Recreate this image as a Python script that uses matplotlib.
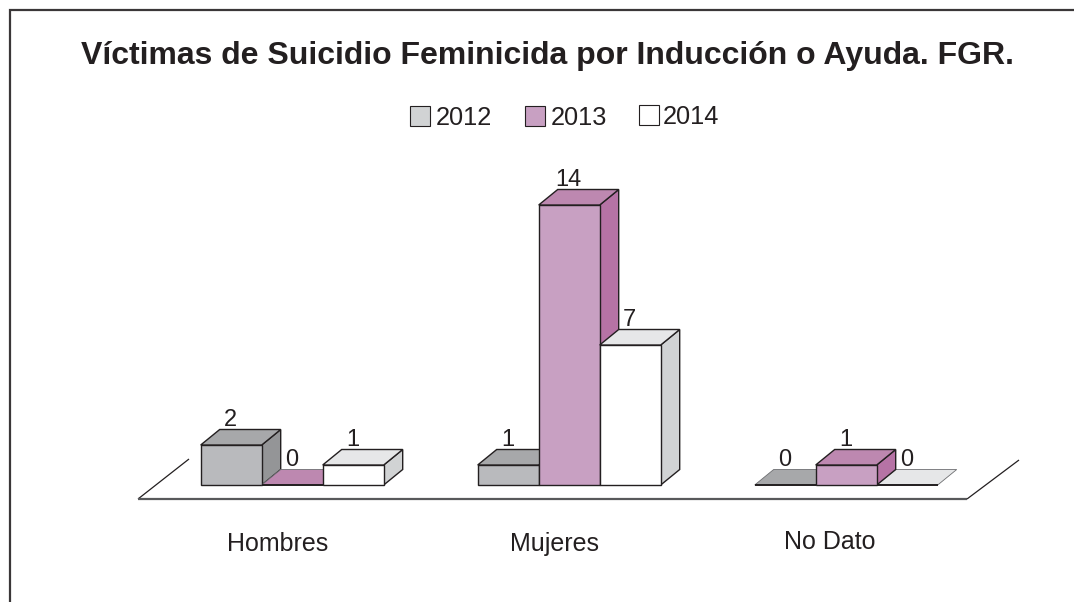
import matplotlib
matplotlib.use("Agg")
import matplotlib.pyplot as plt
from matplotlib.patches import Polygon, Rectangle
from matplotlib.transforms import offset_copy

plt.rcParams['font.family'] = ['Liberation Sans', 'DejaVu Sans']

TITLE = "Víctimas de Suicidio Feminicida por Inducción o Ayuda. FGR."
categories = ["Hombres", "Mujeres", "No Dato"]
years = ["2012", "2013", "2014"]
v2012 = [2, 1, 0]
v2013 = [0, 14, 1]
v2014 = [1, 7, 0]
series = [v2012, v2013, v2014]

front = ["#b9babd", "#c8a0c2", "#ffffff"]
top = ["#a7a8aa", "#bd88b0", "#e6e7e8"]
side = ["#949597", "#b673a5", "#d1d3d4"]
legend_fc = ["#d1d3d4", "#c8a0c2", "#ffffff"]
edge = "#231f20"

W, H = 1074, 602
fig = plt.figure(figsize=(W / 100, H / 100), dpi=100)
bg = fig.add_axes([0, 0, 1, 1])
bg.set_xlim(0, W)
bg.set_ylim(H, 0)
bg.axis("off")

# frame: left and top edges only, running off the page
bg.plot([9.5, 9.5, 1074], [602, 10, 10], color="#3a3738", lw=1.6, solid_joinstyle="miter")

# plot axes: y in value units (20 px per unit), x in category units
BASE_PX, PX_PER_UNIT = 485, 20
X0_PX, PX_PER_CAT = 200.7, 277
ax_l, ax_r = X0_PX, X0_PX + 3 * PX_PER_CAT
ax_top = BASE_PX - 15 * PX_PER_UNIT
ax = fig.add_axes([ax_l / W, 1 - BASE_PX / H, (ax_r - ax_l) / W, (BASE_PX - ax_top) / H])
ax.set_xlim(0, 3)
ax.set_ylim(0, 15)
ax.axis("off")
ax.patch.set_alpha(0)

# depth of the pseudo-3D extrusion, in data units
DX = 19 / PX_PER_CAT
DY = 15.5 / PX_PER_UNIT
BW = 61 / PX_PER_CAT

# floor outline
FL = dict(clip_on=False, solid_capstyle="butt")
fx = [(189 - X0_PX) / PX_PER_CAT, (138 - X0_PX) / PX_PER_CAT, (967 - X0_PX) / PX_PER_CAT, (1019 - X0_PX) / PX_PER_CAT]
fy = [(BASE_PX - 459) / PX_PER_UNIT, (BASE_PX - 499) / PX_PER_UNIT, (BASE_PX - 499) / PX_PER_UNIT, (BASE_PX - 460) / PX_PER_UNIT]
ax.plot(fx[:2], fy[:2], color=edge, lw=0.9, **FL)
ax.plot(fx[1:3], fy[1:3], color="#58595b", lw=1.6, **FL)
ax.plot(fx[2:], fy[2:], color=edge, lw=0.9, **FL)

label_tf = offset_copy(ax.transData, fig=fig, x=-10 * 0.72, y=2.5, units="points")
for c in range(len(categories)):
    for s, vals in enumerate(series):
        v = vals[c]
        x = c + s * BW
        kw = dict(edgecolor=edge, linewidth=1.0, joinstyle="miter", clip_on=False)
        zo = 2 + s + (c == 2 and s == 1) * 3
        if v > 0:
            ax.add_patch(Polygon([(x + BW, 0), (x + BW + DX, DY), (x + BW + DX, v + DY), (x + BW, v)],
                                 facecolor=side[s], zorder=zo, **kw))
            ax.add_patch(Rectangle((x, 0), BW, v, facecolor=front[s], zorder=zo, **kw))
            ax.add_patch(Polygon([(x, v), (x + DX, v + DY), (x + BW + DX, v + DY), (x + BW, v)],
                                 facecolor=top[s], zorder=zo, **kw))
        else:
            ax.add_patch(Polygon([(x, v), (x + DX, v + DY), (x + BW + DX, v + DY), (x + BW, v)],
                                 facecolor=top[s], edgecolor="#6d6e71", linewidth=0.6,
                                 zorder=zo, clip_on=False))
            ax.plot([x, x + BW], [0, 0], color=edge, lw=1.4, zorder=zo + 0.1, clip_on=False,
                    solid_capstyle="butt")
        ax.text(x + BW * 0.5 + DX * 0.5, v + DY, str(v),
                ha="center", va="baseline", fontsize=17, color=edge, zorder=10, clip_on=False,
                transform=label_tf)

# category labels
label_px = [278, 554, 830]
label_py = [544, 544, 542]
for px, py, name in zip(label_px, label_py, categories):
    bg.text(px, py, name, ha="center", va="center", fontsize=18, color=edge)

# title
bg.text(547.5, 56, TITLE, ha="center", va="center", fontsize=23.05, fontweight="bold", color=edge)

# legend
box_px = [409.5, 524.5, 638.5]
box_py = [106, 106, 105]
text_px = [436, 551, 663]
for px, py, tx, yr, fc in zip(box_px, box_py, text_px, years, legend_fc):
    bg.add_patch(Rectangle((px, py), 20, 20, facecolor=fc, edgecolor=edge, linewidth=0.8))
    bg.text(tx, py + 12, yr, ha="left", va="center", fontsize=18.3, color=edge)

fig.savefig("out.png", dpi=100, facecolor="white")
